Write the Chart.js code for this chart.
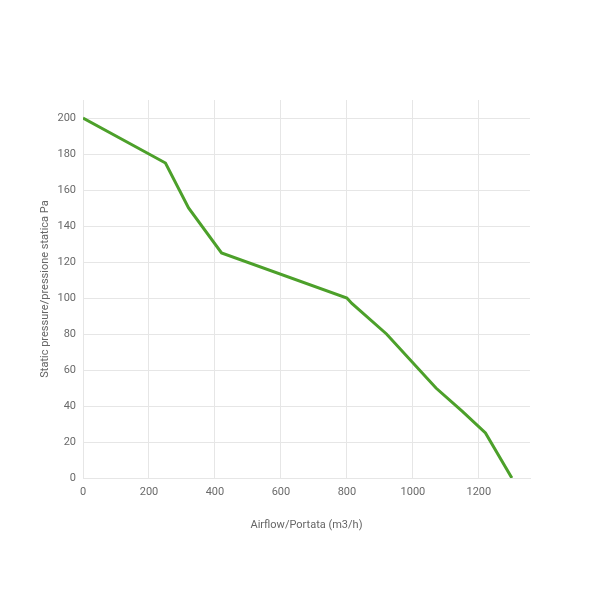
<!DOCTYPE html>
<html>
<head>
<meta charset="utf-8">
<script src="https://cdn.jsdelivr.net/npm/chart.js@4"></script>
<style>
  html, body { margin: 0; padding: 0; background: #fff; }
  #wrap { width: 589px; height: 589px; }
</style>
</head>
<body>
<div id="wrap"><canvas id="curve"></canvas></div>
<script>
// Courbe débit / pression
const airflow = [0, 200, 250, 320, 420, 800, 815, 920, 1070, 1150, 1220, 1300];
const pressure = [200, 180, 175, 150, 125, 100, 97, 80, 50, 37, 25, 0];
const xTitle = 'Airflow/Portata (m3/h)';
const yTitle = 'Static pressure/pressione statica Pa';

const points = airflow.map((x, i) => ({ x: x, y: pressure[i] }));

const tickFont = { family: 'Roboto', size: 11 };
const gridColor = '#e6e6e6';

new Chart(document.getElementById('curve').getContext('2d'), {
  type: 'line',
  data: {
    datasets: [{
      data: points,
      borderColor: 'rgb(76, 160, 42)',
      borderWidth: 3,
      pointRadius: 0,
      tension: 0,
      fill: false
    }]
  },
  options: {
    responsive: true,
    maintainAspectRatio: false,
    animation: false,
    layout: { padding: { left: 35, top: 100, right: 59, bottom: 53 } },
    plugins: { legend: { display: false }, tooltip: { enabled: false } },
    scales: {
      x: {
        type: 'linear',
        min: 0,
        max: 1355,
        afterFit: s => { s.height = 58; },
        ticks: {
          stepSize: 200, includeBounds: false, color: '#6a6a6a', font: tickFont, padding: 8,
          callback: v => String(v) // pas de séparateur de milliers
        },
        grid: { color: gridColor, drawTicks: false },
        border: { color: gridColor },
        title: { display: true, text: xTitle, color: '#666', font: tickFont }
      },
      y: {
        min: 0,
        max: 210,
        afterFit: s => { s.width = 48; },
        ticks: { stepSize: 20, includeBounds: false, color: '#6a6a6a', font: tickFont, padding: 7 },
        grid: { color: gridColor, drawTicks: false },
        border: { color: gridColor },
        title: { display: true, text: yTitle, color: '#666', font: tickFont }
      }
    }
  }
});
</script>
</body>
</html>
